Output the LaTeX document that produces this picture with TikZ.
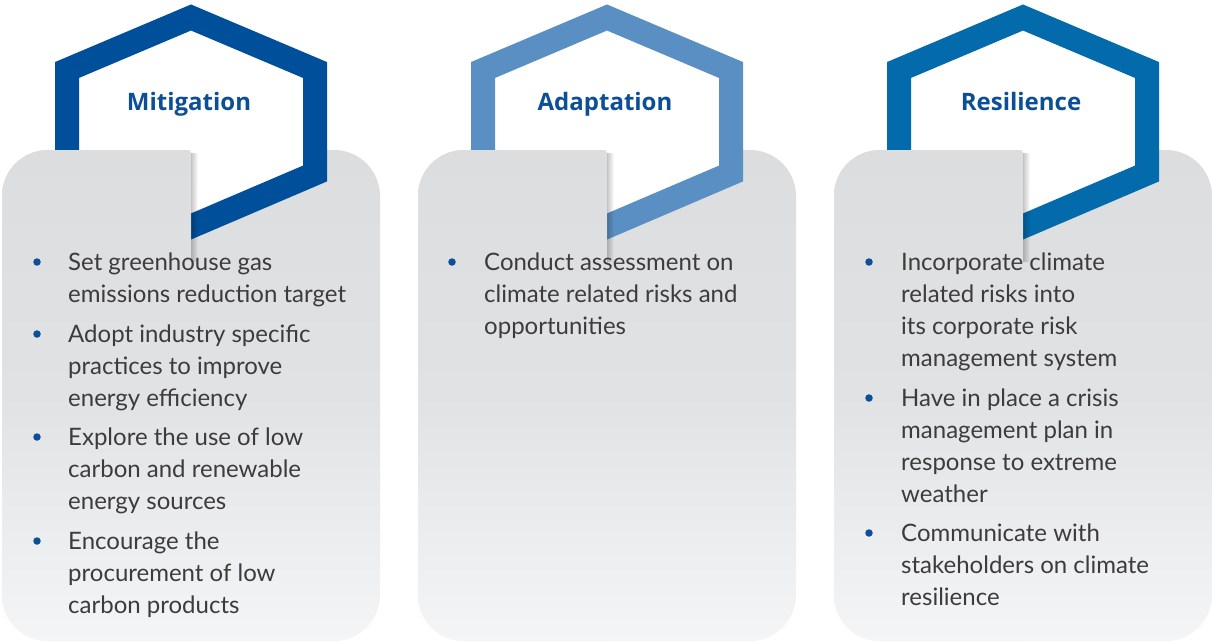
\documentclass[tikz,border=0pt]{standalone}
\usepackage{fontspec}
\setmainfont{Lato}
\newfontfamily\titlefont{Open Sans}
\usetikzlibrary{fadings}

\definecolor{mitblue}{HTML}{004F9A}
\definecolor{adablue}{HTML}{5A8FC3}
\definecolor{resblue}{HTML}{036AAB}
\definecolor{headblue}{HTML}{0C4F97}
\definecolor{cardtop}{HTML}{DCDDDF}
\definecolor{cardmid}{HTML}{E1E2E4}
\definecolor{cardbot}{HTML}{F4F5F6}
\definecolor{bodygray}{HTML}{3C3C3C}

\tikzset{
  card/.style={top color=cardtop, bottom color=cardbot, middle color=cardmid, draw=none},
  hexring/.style={draw=#1, line width=24pt, line join=miter, fill=white},
  heading/.style={font=\titlefont\bfseries\fontsize{24}{28}\selectfont, text=headblue, anchor=base, inner sep=0pt},
  % anchored at the baseline of the last line
  item/.style={font=\fontsize{24}{32}\selectfont, text=bodygray, align=left, anchor=base west, inner sep=0pt},
  dot/.style={circle, fill=headblue, minimum size=7.5pt, inner sep=0pt},
  flapshadow/.style={fill=black, fill opacity=0.22, path fading=east}
}

\begin{document}
\begin{tikzpicture}[x=1pt,y=-1pt]
    \useasboundingbox[fill=white] (0,0) rectangle (1212,643);

    \foreach \dx/\ring/\name in {0/mitblue/Mitigation, 416/adablue/Adaptation, 832/resblue/Resilience}{
      \begin{scope}[xshift=\dx pt]
        % card, hexagon, then the front flap
        \path[card, rounded corners=46pt] (2,150) rectangle (380,641);
        \draw[hexring=\ring] (191,17.5) -- (315,70) -- (315,173.5) -- (191,226.5) -- (67,173.5) -- (67,70) -- cycle;
        \path[card] (191,400) -- (191,641) [rounded corners=46pt] -- (2,641) -- (2,150) [rounded corners=3pt] -- (191,150) -- cycle;
        \fill[flapshadow] (191,153) rectangle (198,262);
        \node[heading] (title\name) at (189,110) {\name};
      \end{scope}
    }

    % Mitigation
    \node[dot] (mitdot1) at (37,262) {};
    \node[item] (mit1) at (68,302) {Set greenhouse gas\\emissions reduction target};
    \node[dot] (mitdot2) at (37,334) {};
    \node[item] (mit2) at (68,406) {Adopt industry specific\\practices to improve\\energy efficiency};
    \node[dot] (mitdot3) at (37,437) {};
    \node[item] (mit3) at (68,509) {Explore the use of low\\carbon and renewable\\energy sources};
    \node[dot] (mitdot4) at (37,541) {};
    \node[item] (mit4) at (68,613) {Encourage the\\procurement of low\\carbon products};

    % Adaptation
    \node[dot] (adadot1) at (452,262) {};
    \node[item] (ada1) at (484,334) {Conduct assessment on\\climate related risks and\\opportunities};

    % Resilience
    \node[dot] (resdot1) at (869,262) {};
    \node[item] (res1) at (901,366) {Incorporate climate\\related risks into\\its corporate risk\\management system};
    \node[dot] (resdot2) at (869,398) {};
    \node[item] (res2) at (901,502) {Have in place a crisis\\management plan in\\response to extreme\\weather};
    \node[dot] (resdot3) at (869,533) {};
    \node[item] (res3) at (901,605) {Communicate with\\stakeholders on climate\\resilience};
\end{tikzpicture}
\end{document}
